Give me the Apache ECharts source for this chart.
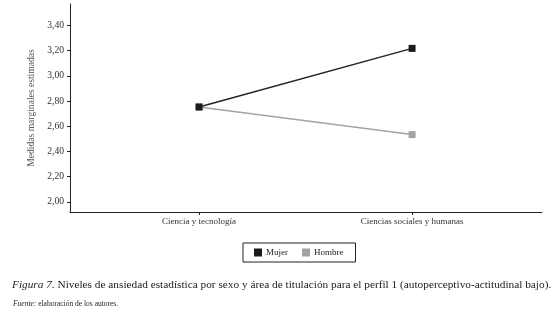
<!DOCTYPE html>
<html>
<head>
<meta charset="utf-8">
<script src="https://cdn.jsdelivr.net/npm/echarts@6/dist/echarts.min.js"></script>
<style>
  html, body { margin: 0; padding: 0; background: #fff; }
  #chart { width: 555px; height: 314px; }
</style>
</head>
<body>
<div id="chart"></div>
<script>
var categories = ["Ciencia y tecnología", "Ciencias sociales y humanas"];
var mujer = [2.753, 3.218];
var hombre = [2.753, 2.534];
var yTicks = [2.0, 2.2, 2.4, 2.6, 2.8, 3.0, 3.2, 3.4];

var serif = "Liberation Serif";
var chart = echarts.init(document.getElementById("chart"));

function toPairs(vals) {
  return vals.map(function (v, i) { return [i, v]; });
}

chart.setOption({
  animation: false,
  textStyle: { fontFamily: serif },
  title: [
    {
      left: 7,
      top: 275,
      text: "{i|Figura 7}. Niveles de ansiedad estadística por sexo y área de titulación para el perfil 1 (autoperceptivo-actitudinal bajo).",
      textStyle: {
        fontFamily: serif,
        fontSize: 11.3,
        fontWeight: "normal",
        color: "#222",
        rich: { i: { fontFamily: serif, fontSize: 11.3, fontStyle: "italic", color: "#222" } }
      }
    },
    {
      left: 8,
      top: 295,
      text: "{i|Fuente:} elaboración de los autores.",
      textStyle: {
        fontFamily: serif,
        fontSize: 7.5,
        fontWeight: "normal",
        color: "#222",
        rich: { i: { fontFamily: serif, fontSize: 7.5, fontStyle: "italic", color: "#222" } }
      }
    }
  ],
  legend: {
    left: 243,
    top: 243,
    width: 113,
    height: 18,
    padding: [5, 12, 5, 11],
    itemGap: 14,
    itemWidth: 8,
    itemHeight: 8,
    borderColor: "#222",
    borderWidth: 1,
    icon: "rect",
    textStyle: { fontFamily: serif, fontSize: 9, color: "#222", padding: [0, 0, 0, -1] },
    data: ["Mujer", "Hombre"]
  },
  grid: { left: 70, right: 13, top: 4, bottom: 102 },
  xAxis: {
    type: "value",
    min: -0.606,
    max: 1.61,
    splitLine: { show: false },
    axisLine: { show: true, onZero: false, lineStyle: { color: "#222", width: 1 } },
    axisTick: { show: true, length: 3, lineStyle: { color: "#222" }, customValues: [0, 1] },
    axisLabel: {
      customValues: [0, 1],
      margin: 5,
      fontFamily: serif,
      fontSize: 9,
      color: "#333",
      formatter: function (v) { return categories[Math.round(v)]; }
    }
  },
  yAxis: {
    type: "value",
    min: 1.92,
    max: 3.57,
    name: "Medidas marginales estimadas",
    nameLocation: "middle",
    nameGap: 34,
    nameTextStyle: { fontFamily: serif, fontSize: 9.6, color: "#555" },
    splitLine: { show: false },
    axisLine: { show: true, onZero: false, lineStyle: { color: "#222", width: 1 } },
    axisTick: { show: true, length: 3, lineStyle: { color: "#222" }, customValues: yTicks },
    axisLabel: {
      customValues: yTicks,
      margin: 6,
      fontFamily: serif,
      fontSize: 9.6,
      color: "#333",
      formatter: function (v) { return v.toFixed(2).replace(".", ","); }
    }
  },
  series: [
    {
      name: "Hombre",
      type: "line",
      data: toPairs(hombre),
      symbol: "rect",
      symbolSize: 7,
      lineStyle: { color: "#a3a3a3", width: 1.5 },
      itemStyle: { color: "#a3a3a3" }
    },
    {
      name: "Mujer",
      type: "line",
      data: toPairs(mujer),
      symbol: "rect",
      symbolSize: 7,
      lineStyle: { color: "#222", width: 1.5 },
      itemStyle: { color: "#1a1a1a" }
    }
  ]
});
</script>
</body>
</html>
